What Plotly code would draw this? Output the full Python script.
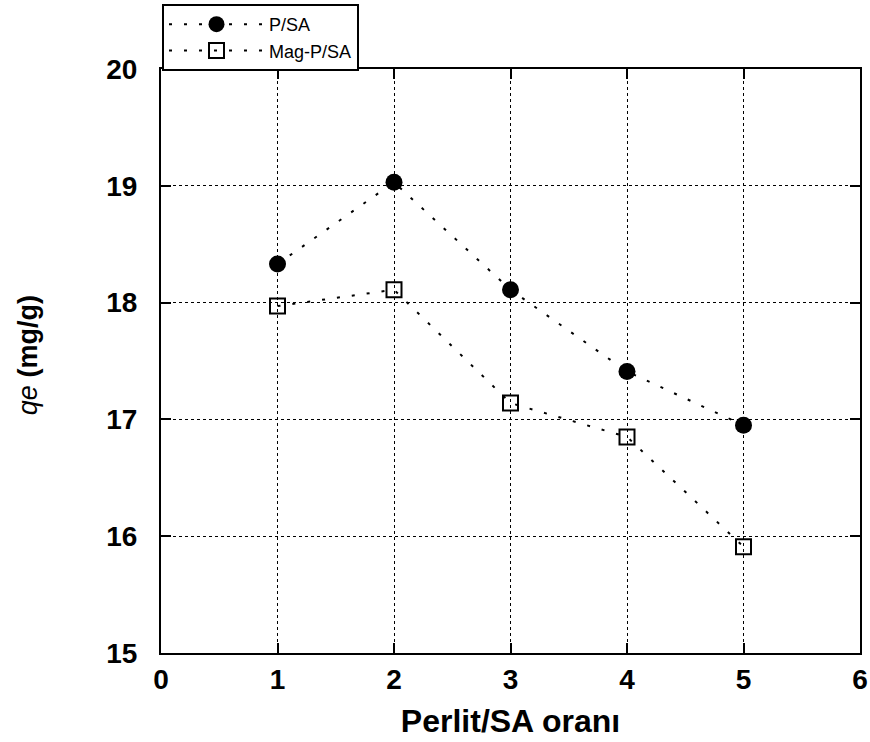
import plotly.graph_objects as go

ratio = [1, 2, 3, 4, 5]
qe_psa = [18.33, 19.03, 18.11, 17.41, 16.95]
qe_mag_psa = [17.97, 18.11, 17.14, 16.85, 15.91]
x_ticks = [0, 1, 2, 3, 4, 5, 6]
y_ticks = [15, 16, 17, 18, 19, 20]

FONT = "Liberation Sans, Arial, sans-serif"

fig = go.Figure()
fig.add_trace(go.Scatter(
    x=ratio, y=qe_psa, name="P/SA", mode="lines+markers",
    line=dict(color="black", width=2, dash="3px,12px"),
    marker=dict(symbol="circle", size=17, color="black"),
))
fig.add_trace(go.Scatter(
    x=ratio, y=qe_mag_psa, name="Mag-P/SA", mode="lines+markers",
    line=dict(color="black", width=2, dash="3px,12px"),
    marker=dict(symbol="square-open", size=15, color="black", line=dict(width=2)),
))

axis_common = dict(
    showline=True, linecolor="black", linewidth=2, mirror="ticks",
    ticks="inside", ticklen=10, tickwidth=1.5, tickcolor="black",
    showgrid=True, gridcolor="black", gridwidth=1, griddash="dot",
    zeroline=False, automargin=False,
    tickfont=dict(family=FONT, size=28, color="black", weight="bold"),
)

fig.update_xaxes(
    range=[0, 6], tickvals=x_ticks, ticktext=[str(v) for v in x_ticks],
    title=dict(text="<b>Perlit/SA oranı</b>", font=dict(family=FONT, size=32, color="black"), standoff=16),
    **axis_common,
)
fig.update_yaxes(
    range=[15, 20], tickvals=y_ticks, ticktext=[str(v) for v in y_ticks],
    ticklabelstandoff=16,
    **axis_common,
)

fig.add_annotation(
    text="<i>qe</i> <b>(mg/g)</b>", textangle=-90,
    xref="paper", yref="paper", x=-133 / 699, y=0.51,
    xanchor="center", yanchor="middle", showarrow=False,
    font=dict(family=FONT, size=27, color="black"),
)

fig.update_layout(
    width=870, height=742,
    margin=dict(l=161, r=10, t=69, b=89, autoexpand=False),
    paper_bgcolor="white", plot_bgcolor="white",
    showlegend=True,
    legend=dict(
        x=162 / 870, y=1 - 4 / 742, xref="container", yref="container",
        xanchor="left", yanchor="top",
        bordercolor="black", borderwidth=2, bgcolor="white",
        font=dict(family=FONT, size=18, color="black"),
        itemwidth=95, tracegroupgap=0,
    ),
)

fig.write_html("out.html")
